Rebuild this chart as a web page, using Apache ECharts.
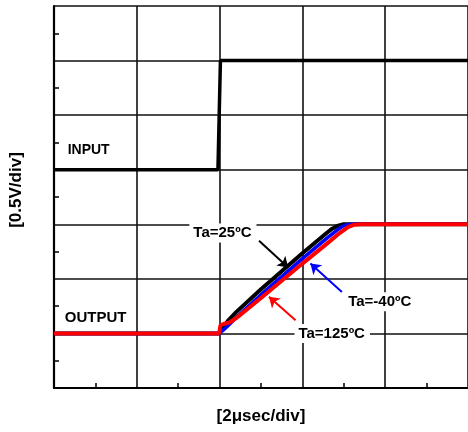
<!DOCTYPE html>
<html>
<head>
<meta charset="utf-8">
<script src="https://cdn.jsdelivr.net/npm/echarts@6/dist/echarts.min.js"></script>
<style>html,body{margin:0;padding:0;background:#fff}#c{width:468px;height:432px}</style>
</head>
<body>
<div id="c"></div>
<script>
// Units: x in divisions (2 µs/div), y in divisions (0.5 V/div)
const xTicks = [0, 1, 2, 3, 4, 5];
const yTicks = [0, 1, 2, 3, 4, 5, 6, 7];
const inputData = [[0, 4], [1.98, 4], [2.01, 6], [5, 6]];
const out25 = [[0, 1], [1.995, 1], [2.04, 1.1], [2.1, 1.23], [2.2, 1.39], [2.5, 1.81], [3.0, 2.47], [3.3, 2.85], [3.36, 2.92], [3.42, 2.97], [3.5, 3.0], [5, 3]];
const outM40 = [[0, 1], [1.995, 1], [2.05, 1.07], [2.12, 1.17], [2.2, 1.29], [2.5, 1.71], [3.0, 2.37], [3.3, 2.75], [3.4, 2.87], [3.47, 2.95], [3.53, 2.99], [3.6, 3.0], [5, 3]];
const out125 = [[0, 1], [1.995, 1], [2.01, 1.15], [2.06, 1.18], [2.12, 1.2], [2.2, 1.28], [2.5, 1.65], [3.0, 2.28], [3.3, 2.65], [3.45, 2.84], [3.55, 2.95], [3.62, 2.99], [3.7, 3.0], [5, 3]];
const arrow25 = [[2.476, 2.70], [2.828, 2.21]];
const arrowM40 = [[3.477, 1.76], [3.097, 2.28]];
const arrow125 = [[2.917, 1.24], [2.596, 1.67]];
const labels = [
  {text: 'INPUT', pos: [0.165, 4.36], align: 'left', size: 14, bg: false},
  {text: 'OUTPUT', pos: [0.13, 1.28], align: 'left', size: 15, bg: false},
  {text: 'Ta=25ºC', pos: [2.04, 2.84], align: 'center', size: 15, bg: true},
  {text: 'Ta=-40ºC', pos: [3.94, 1.58], align: 'center', size: 15, bg: true},
  {text: 'Ta=125ºC', pos: [3.36, 1.0], align: 'center', size: 15, bg: true}
];
const FONT = '"Liberation Sans", Arial, sans-serif';

const chart = echarts.init(document.getElementById('c'), null, {renderer: 'canvas'});
const gridLine = {show: true, lineStyle: {color: '#111', width: 1.6}};
function axis(min, max) {
  return {
    type: 'value', min: min, max: max, interval: 1,
    axisLine: {show: true, onZero: false, lineStyle: {color: '#000', width: 2.2}},
    axisTick: {show: false, inside: true},
    minorTick: {show: true, splitNumber: 2, length: 5, lineStyle: {color: '#000', width: 1.5}},
    axisLabel: {show: false},
    splitLine: gridLine
  };
}
const xA = axis(xTicks[0], xTicks[xTicks.length - 1]);
xA.name = '[2μsec/div]';
xA.nameLocation = 'middle';
xA.nameGap = 20;
xA.nameTextStyle = {fontFamily: FONT, fontWeight: 'bold', fontSize: 17, color: '#000'};
const yA = axis(yTicks[0], yTicks[yTicks.length - 1]);
yA.name = '[0.5V/div]';
yA.nameLocation = 'middle';
yA.nameGap = 29;
yA.nameTextStyle = {fontFamily: FONT, fontWeight: 'bold', fontSize: 17, color: '#000', padding: [0, 0, 0, 14]};

function mk(arr, color) {
  return {
    silent: true, animation: false, symbol: ['none', 'arrow'], symbolSize: 10,
    label: {show: false}, emphasis: {disabled: true},
    lineStyle: {color: color, width: 2, type: 'solid'},
    data: [[{coord: arr[0]}, {coord: arr[1]}]]
  };
}
function line(data, color, w, ml) {
  const s = {type: 'line', data: data, showSymbol: false, symbol: 'none', smooth: false,
    lineStyle: {color: color, width: w}, itemStyle: {color: color}, animation: false, silent: true};
  if (ml) s.markLine = ml;
  return s;
}
chart.setOption({
  animation: false,
  grid: {left: 54, right: -2, top: 6, bottom: 44},
  xAxis: xA,
  yAxis: yA,
  series: [
    line(inputData, '#000', 3.5),
    line(out25, '#000', 4, mk(arrow25, '#000')),
    line(outM40, '#0000ff', 3.5, mk(arrowM40, '#0000ff')),
    line(out125, '#ff0000', 4, mk(arrow125, '#ff0000'))
  ]
});
const g = labels.map(function (l) {
  const p = chart.convertToPixel({gridIndex: 0}, l.pos);
  const st = {text: l.text, x: p[0], y: p[1], fill: '#000', font: 'bold ' + l.size + 'px ' + FONT,
    align: l.align, verticalAlign: 'middle'};
  if (l.bg) { st.backgroundColor = '#fff'; st.padding = [2, 5, 2, 4]; }
  return {type: 'text', z: 100, silent: true, style: st};
});
chart.setOption({graphic: g});
</script>
</body>
</html>
